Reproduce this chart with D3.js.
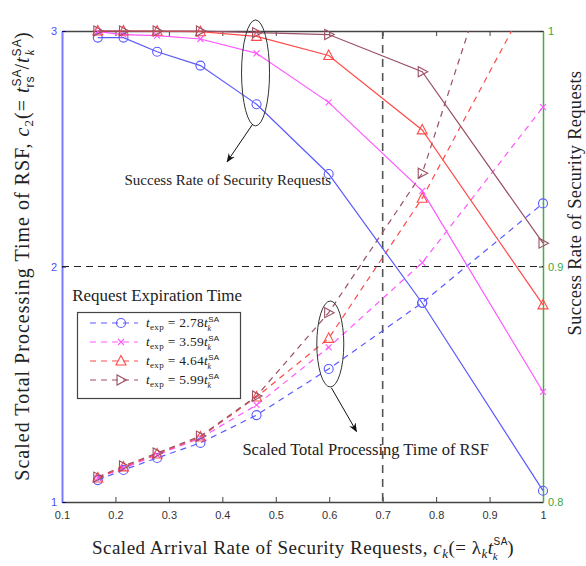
<!DOCTYPE html>
<html><head><meta charset="utf-8">
<script src="https://cdn.jsdelivr.net/npm/d3@7/dist/d3.min.js"></script>
<style>
body{margin:0;background:#fff;}
svg{display:block;}
</style></head>
<body>
<svg id="c" width="586" height="566"></svg>
<script>
// ---------- data ----------
const arrivalRates = [0.167, 0.215, 0.278, 0.359, 0.464, 0.599, 0.774, 1.0];
const seriesNames = ["2.78", "3.59", "4.64", "5.99"];
// success rate (right axis)
const successBlue    = [0.9972, 0.9972, 0.9912, 0.9853, 0.9689, 0.9393, 0.8845, 0.8048];
const successMagenta = [0.9997, 0.9985, 0.9980, 0.9966, 0.9905, 0.9697, 0.9321, 0.8468];
const successRed     = [1.0000, 1.0000, 0.9999, 0.9997, 0.9977, 0.9896, 0.9580, 0.8837];
const successBrown   = [1.0000, 1.0000, 1.0000, 1.0000, 0.9993, 0.9985, 0.9827, 0.9099];
// scaled total processing time (left axis)
const timeBlue    = [1.093, 1.136, 1.187, 1.251, 1.369, 1.565, 1.846, 2.268];
const timeMagenta = [1.102, 1.144, 1.200, 1.272, 1.412, 1.657, 2.016, 2.677];
const timeRed     = [1.102, 1.149, 1.204, 1.276, 1.446, 1.695, 2.290, 3.25];
const timeBrown   = [1.106, 1.153, 1.208, 1.280, 1.450, 1.804, 2.396, 3.97];
const xTicks = [0.1,0.2,0.3,0.4,0.5,0.6,0.7,0.8,0.9,1];
const yLeftTicks = [1,2,3];
const yRightTicks = [0.8,0.9,1];
const expirationTime = 2;      // horizontal reference (left axis)
const markedRate = 0.7;        // vertical reference

// ---------- layout ----------
const colors = ["#5a5aff", "#ff55ff", "#ff4a4a", "#9a5065"];
const shapes = ["circle", "cross", "triUp", "triRight"];
const success = [successBlue, successMagenta, successRed, successBrown];
const times = [timeBlue, timeMagenta, timeRed, timeBrown];

const svg = d3.select("#c");
const L = 62, R = 543, T = 31, B = 502;
const x = d3.scaleLinear().domain([0.1, 1]).range([L, R]);
const yL = d3.scaleLinear().domain([1, 3]).range([B, T]);
const yR = d3.scaleLinear().domain([0.8, 1]).range([B, T]);
const serif = "'Liberation Serif','Times New Roman',serif";
const sans = "'Liberation Sans',Arial,sans-serif";

const defs = svg.append("defs");
defs.append("clipPath").attr("id","clip")
  .append("rect").attr("x",L).attr("y",T).attr("width",R-L).attr("height",B-T);
defs.append("marker").attr("id","arr").attr("viewBox","0 0 10 10").attr("refX",9).attr("refY",5)
  .attr("markerWidth",9).attr("markerHeight",9).attr("orient","auto-start-reverse")
  .append("path").attr("d","M0,1 L10,5 L0,9 L3,5 Z").attr("fill","#111");

// axes
const axB = svg.append("g").attr("transform",`translate(0,${B})`)
  .call(d3.axisBottom(x).tickValues(xTicks).tickSizeInner(-5).tickSizeOuter(0).tickPadding(9).tickFormat(d3.format("~g")));
const axT = svg.append("g").attr("transform",`translate(0,${T})`)
  .call(d3.axisTop(x).tickValues(xTicks).tickSizeInner(-5).tickSizeOuter(0).tickFormat(""));
[axB, axT].forEach(a => { a.select(".domain").attr("stroke","#444").attr("stroke-width",1.5);
  a.selectAll(".tick line").attr("stroke","#444"); });
axB.selectAll("text").attr("fill","#333").style("font-family",sans).style("font-size","11px");

const axL = svg.append("g").attr("transform",`translate(${L},0)`)
  .call(d3.axisLeft(yL).tickValues(yLeftTicks).tickSizeInner(-4).tickSizeOuter(0).tickPadding(5).tickFormat(d3.format("~g")));
axL.select(".domain").attr("stroke","#7b7bff").attr("stroke-width",2);
axL.selectAll(".tick line").attr("stroke","#00008b");
axL.selectAll("text").attr("fill","#4d4dff").style("font-family",sans).style("font-size","11px");

const axR = svg.append("g").attr("transform",`translate(${R},0)`)
  .call(d3.axisRight(yR).tickValues(yRightTicks).tickSizeInner(-4).tickSizeOuter(0).tickPadding(5).tickFormat(d3.format("~g")));
axR.select(".domain").attr("stroke","#44b044").attr("stroke-width",1.5);
axR.selectAll(".tick line").attr("stroke","#333");
axR.selectAll("text").attr("fill","#3aa83a").style("font-family",sans).style("font-size","11px");

// reference lines
svg.append("line").attr("x1",L).attr("x2",R).attr("y1",yL(expirationTime)).attr("y2",yL(expirationTime))
  .attr("stroke","#222").attr("stroke-width",1.2).attr("stroke-dasharray","7,5");
svg.append("line").attr("x1",x(markedRate)).attr("x2",x(markedRate)).attr("y1",T).attr("y2",B)
  .attr("stroke","#555").attr("stroke-width",1.6).attr("stroke-dasharray","8,6");

// marker drawing
function drawMarker(g, shape, cx, cy, color) {
  if (shape === "circle") g.append("circle").attr("cx",cx).attr("cy",cy).attr("r",4.5)
    .attr("fill","none").attr("stroke",color).attr("stroke-width",1.1);
  else if (shape === "cross") g.append("path")
    .attr("d",`M${cx-3},${cy-3}L${cx+3},${cy+3}M${cx-3},${cy+3}L${cx+3},${cy-3}`)
    .attr("stroke",color).attr("stroke-width",1.1);
  else if (shape === "triUp") g.append("path")
    .attr("d",`M${cx},${cy-5.5}L${cx+5},${cy+4}L${cx-5},${cy+4}Z`)
    .attr("fill","none").attr("stroke",color).attr("stroke-width",1.1);
  else g.append("path")
    .attr("d",`M${cx+5.5},${cy}L${cx-4},${cy-5}L${cx-4},${cy+5}Z`)
    .attr("fill","none").attr("stroke",color).attr("stroke-width",1.1);
}

const plot = svg.append("g").attr("clip-path","url(#clip)");
const plotOpen = svg.append("g");
// dashed: processing time
times.forEach((vals, i) => {
  const line = d3.line().x((d,j)=>x(arrivalRates[j])).y(d=>yL(d));
  plot.append("path").datum(vals).attr("d",line).attr("fill","none")
    .attr("stroke",colors[i]).attr("stroke-width",1.2).attr("stroke-dasharray","6,5");
  vals.forEach((v,j)=>{ if (v <= 3) drawMarker(plotOpen, shapes[i], x(arrivalRates[j]), yL(v), colors[i]); });
});
// solid: success rate
success.forEach((vals, i) => {
  const line = d3.line().x((d,j)=>x(arrivalRates[j])).y(d=>yR(d));
  plotOpen.append("path").datum(vals).attr("d",line).attr("fill","none")
    .attr("stroke",colors[i]).attr("stroke-width",1.2);
  vals.forEach((v,j)=> drawMarker(plotOpen, shapes[i], x(arrivalRates[j]), yR(v), colors[i]));
});

// annotations
const ann = svg.append("g");
ann.append("ellipse").attr("cx",x(0.464)-1).attr("cy",yR(0.9822)).attr("rx",14).attr("ry",53)
  .attr("fill","none").attr("stroke","#333").attr("stroke-width",1);
ann.append("line").attr("x1",x(0.457)).attr("y1",yR(0.9605)).attr("x2",x(0.409)).attr("y2",yR(0.9445))
  .attr("stroke","#111").attr("stroke-width",1).attr("marker-end","url(#arr)");
ann.append("text").attr("x",x(0.217)).attr("y",yR(0.9345)).attr("font-family",serif).attr("font-size",15)
  .attr("fill","#222").text("Success Rate of Security Requests");

ann.append("ellipse").attr("cx",x(0.602)).attr("cy",yL(1.671)).attr("rx",13.5).attr("ry",43)
  .attr("fill","none").attr("stroke","#333").attr("stroke-width",1);
ann.append("line").attr("x1",x(0.604)).attr("y1",yL(1.485)).attr("x2",x(0.651)).attr("y2",yL(1.30))
  .attr("stroke","#111").attr("stroke-width",1).attr("marker-end","url(#arr)");
ann.append("text").attr("x",x(0.4375)).attr("y",yL(1.2)).attr("font-family",serif).attr("font-size",16.5)
  .attr("fill","#222").text("Scaled Total Processing Time of RSF");

ann.append("text").attr("x",x(0.119)).attr("y",yL(1.855)).attr("font-family",serif).attr("font-size",17)
  .attr("fill","#222").text("Request Expiration Time");

// legend
const lg = svg.append("g");
lg.append("rect").attr("x",77.5).attr("y",312.5).attr("width",163).attr("height",86)
  .attr("fill","#fff").attr("stroke","#444").attr("stroke-width",1.2);
seriesNames.forEach((nm,i)=>{
  const yy = 323 + i*19;
  lg.append("line").attr("x1",90).attr("x2",138).attr("y1",yy).attr("y2",yy)
    .attr("stroke",colors[i]).attr("stroke-width",1.2).attr("stroke-dasharray","6,5");
  drawMarker(lg, shapes[i], 121, yy, colors[i]);
  const t = lg.append("text").attr("x",146).attr("y",yy+4).attr("font-family",serif).attr("font-size",13.5)
    .attr("letter-spacing",0.3).attr("fill","#222");
  t.append("tspan").attr("font-style","italic").text("t");
  t.append("tspan").attr("font-size",9).attr("dy",3).text("exp");
  t.append("tspan").attr("dy",-3).text(" = " + nm);
  t.append("tspan").attr("font-style","italic").text("t");
  t.append("tspan").attr("font-size",8).attr("font-family",sans).attr("dy",-5).text("SA");
  t.append("tspan").attr("font-size",8).attr("font-style","italic").attr("dx",-12).attr("dy",9).text("k");
});

// axis titles
const xt = svg.append("text").attr("x",303).attr("y",554).attr("text-anchor","middle")
  .attr("font-family",serif).attr("font-size",19).attr("letter-spacing",0.5).attr("fill","#222");
xt.append("tspan").text("Scaled Arrival Rate of Security Requests, ");
xt.append("tspan").attr("font-style","italic").text("c");
xt.append("tspan").attr("font-style","italic").attr("font-size",13).attr("dy",4).text("k");
xt.append("tspan").attr("dy",-4).text("(= λ");
xt.append("tspan").attr("font-style","italic").attr("font-size",13).attr("dy",4).text("k");
xt.append("tspan").attr("font-style","italic").attr("dy",-4).text("t");
xt.append("tspan").attr("font-size",10).attr("font-family",sans).attr("dy",-9).text("SA");
xt.append("tspan").attr("font-size",11).attr("font-style","italic").attr("dx",-15).attr("dy",15).text("k");
xt.append("tspan").attr("dx",9).attr("dy",-6).text(")");

const ytl = svg.append("text").attr("transform","translate(29,256) rotate(-90)").attr("text-anchor","middle")
  .attr("font-family",serif).attr("font-size",20).attr("letter-spacing",1).attr("fill","#222");
ytl.append("tspan").text("Scaled Total Processing Time of RSF, ");
ytl.append("tspan").attr("font-style","italic").text("c");
ytl.append("tspan").attr("font-size",13).attr("dy",4).text("2");
ytl.append("tspan").attr("dy",-4).text("(= ");
ytl.append("tspan").attr("font-style","italic").text("t");
ytl.append("tspan").attr("font-size",12).attr("font-family",sans).attr("dy",-8).text("SA");
ytl.append("tspan").attr("font-size",12).attr("font-family",sans).attr("dx",-19).attr("dy",13).text("rs");
ytl.append("tspan").attr("dx",6).attr("dy",-5).text("/");
ytl.append("tspan").attr("font-style","italic").text("t");
ytl.append("tspan").attr("font-size",12).attr("font-family",sans).attr("dy",-8).text("SA");
ytl.append("tspan").attr("font-size",12).attr("font-style","italic").attr("dx",-17).attr("dy",13).text("k");
ytl.append("tspan").attr("dx",10).attr("dy",-5).text(")");

svg.append("text").attr("transform","translate(581,203) rotate(-90)").attr("text-anchor","middle")
  .attr("font-family",serif).attr("font-size",18.5).attr("letter-spacing",0.3).attr("fill","#222").text("Success Rate of Security Requests");
</script>
</body></html>
